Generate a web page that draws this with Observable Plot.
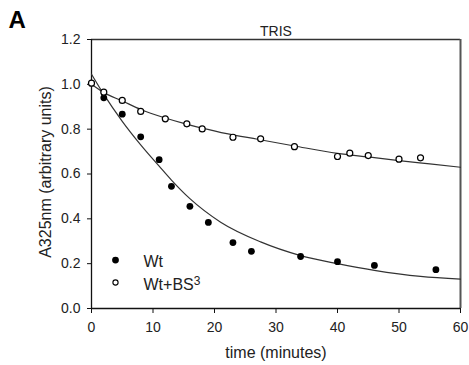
<!DOCTYPE html>
<html>
<head>
<meta charset="utf-8">
<script src="https://cdn.jsdelivr.net/npm/d3@7"></script>
<script src="https://cdn.jsdelivr.net/npm/@observablehq/plot@0.6"></script>
<style>
  html, body { margin: 0; padding: 0; background: #fff; }
  #chart { width: 469px; height: 365px; }
</style>
</head>
<body>
<div id="chart"></div>
<script>
// Measured data: Wt (filled circles)
const timeWt = [2, 5, 8, 11, 13, 16, 19, 23, 26, 34, 40, 46, 56];
const absWt  = [0.94, 0.867, 0.766, 0.664, 0.545, 0.456, 0.384, 0.294, 0.255, 0.232, 0.209, 0.192, 0.173];

// Measured data: Wt+BS3 (open circles)
const timeBS3 = [0, 2, 5, 8, 12, 15.5, 18, 23, 27.5, 33, 40, 42, 45, 50, 53.5];
const absBS3  = [1.005, 0.965, 0.928, 0.879, 0.846, 0.824, 0.801, 0.764, 0.757, 0.722, 0.678, 0.693, 0.682, 0.666, 0.672];

// Fitted curves
const fitTimeWt = [0, 2, 5, 8, 11, 13, 16, 21, 27.5, 34, 40, 46, 53.5, 60];
const fitWt     = [1.045, 0.955, 0.835, 0.73, 0.635, 0.573, 0.49, 0.385, 0.297, 0.236, 0.2, 0.17, 0.143, 0.131];
const fitTimeBS3 = [0, 2, 5, 8, 12, 15, 18, 22, 27, 33, 40, 45, 50, 55, 60];
const fitBS3     = [1.0, 0.963, 0.926, 0.888, 0.85, 0.826, 0.805, 0.78, 0.755, 0.725, 0.692, 0.676, 0.66, 0.645, 0.63];

// Axes
const xTicks = [0, 10, 20, 30, 40, 50, 60];
const yTicks = [0.0, 0.2, 0.4, 0.6, 0.8, 1.0, 1.2];
const xDomain = [0, 60];
const yDomain = [0, 1.2];

// Labels
const panelLabel = "A";
const title = "TRIS";
const xLabel = "time (minutes)";
const yLabel = "A325nm (arbitrary units)";
const seriesNames = ["Wt", "Wt+BS3"];

const wt = timeWt.map((t, i) => ({t, v: absWt[i]}));
const bs = timeBS3.map((t, i) => ({t, v: absBS3[i]}));
const fWt = fitTimeWt.map((t, i) => ({t, v: fitWt[i]}));
const fBs = fitTimeBS3.map((t, i) => ({t, v: fitBS3[i]}));

const font = "'Liberation Sans', Arial, sans-serif";

const chart = Plot.plot({
  width: 469,
  height: 365,
  marginLeft: 91,
  marginRight: 9,
  marginTop: 39,
  marginBottom: 57,
  style: {fontFamily: font, fontSize: "14px", color: "#222", background: "#fff"},
  x: {domain: xDomain, label: null},
  y: {domain: yDomain, label: null},
  marks: [
    Plot.axisX({ticks: xTicks, tickSize: 5, tickPadding: 9, tickFormat: d => String(d), label: null, stroke: "#111"}),
    Plot.axisY({ticks: yTicks, tickSize: 4, tickPadding: 7, tickFormat: d3.format(".1f"), label: null, stroke: "#111"}),
    // frame
    Plot.ruleY([yDomain[1]], {stroke: "#333", strokeWidth: 1.3}),
    Plot.ruleX([xDomain[1]], {stroke: "#555", strokeWidth: 2}),
    Plot.ruleX([xDomain[0]], {stroke: "#111", strokeWidth: 1.3}),
    Plot.ruleY([yDomain[0]], {stroke: "#111", strokeWidth: 1.3}),
    // fits
    Plot.line(fWt, {x: "t", y: "v", curve: "monotone-x", stroke: "#333", strokeWidth: 1.2}),
    Plot.line(fBs, {x: "t", y: "v", curve: "monotone-x", stroke: "#333", strokeWidth: 1.2}),
    // data
    Plot.dot(wt, {x: "t", y: "v", r: 3.4, fill: "#000", stroke: "none"}),
    Plot.dot(bs, {x: "t", y: "v", r: 3, fill: "#fff", stroke: "#000", strokeWidth: 1.2}),
    // legend
    Plot.dot([seriesNames[0]], {frameAnchor: "bottom-left", dx: 24, dy: -48.4, r: 3.4, fill: "#000", stroke: "none"}),
    Plot.dot([seriesNames[1]], {frameAnchor: "bottom-left", dx: 24, dy: -26, r: 2.6, fill: "#fff", stroke: "#000", strokeWidth: 1.1}),
    Plot.text([seriesNames[0]], {text: d => d, frameAnchor: "bottom-left", dx: 52, dy: -46.8, textAnchor: "start", lineAnchor: "middle", fontSize: 16, fill: "#222"}),
    Plot.text([seriesNames[1]], {text: d => d, frameAnchor: "bottom-left", dx: 52, dy: -23.5, textAnchor: "start", lineAnchor: "middle", fontSize: 16, fill: "#222"}),
    // titles and labels
    Plot.text([title], {text: d => d, frameAnchor: "top", dy: -8, textAnchor: "middle", lineAnchor: "middle", fontSize: 14, fill: "#222"}),
    Plot.text([panelLabel], {text: d => d, frameAnchor: "top-left", dx: -83, dy: -18.7, textAnchor: "start", lineAnchor: "middle", fontSize: 24, fontWeight: "bold", fill: "#000"}),
    Plot.text([xLabel], {text: d => d, frameAnchor: "bottom", dy: 44, textAnchor: "middle", lineAnchor: "middle", fontSize: 16, fill: "#222"}),
    Plot.text([yLabel], {text: d => d, frameAnchor: "left", dx: -46, dy: -2, rotate: -90, textAnchor: "middle", lineAnchor: "middle", fontSize: 16, fill: "#222"})
  ]
});

document.getElementById("chart").appendChild(chart);

// superscript 3 in "Wt+BS3"
d3.select(chart).selectAll("text").each(function() {
  const t = d3.select(this);
  if (t.text() === "Wt+BS3" && t.selectAll("tspan").empty()) {
    t.text("Wt+BS");
    t.append("tspan").attr("dy", "-0.45em").attr("font-size", "12px").text("3");
  }
});
</script>
</body>
</html>
